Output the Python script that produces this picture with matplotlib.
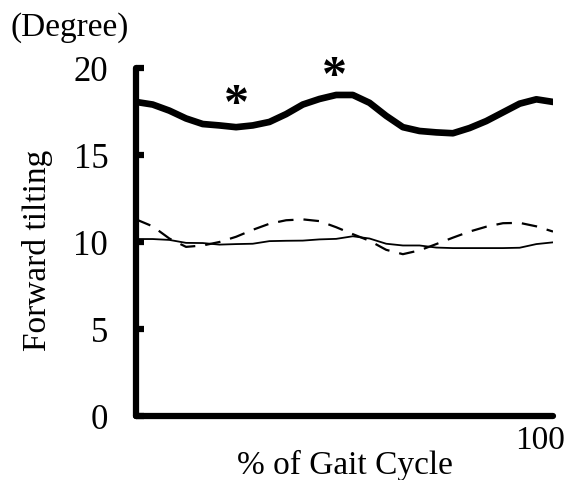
import matplotlib
matplotlib.use('Agg')
import matplotlib.pyplot as plt
import matplotlib.transforms as mtransforms

# % of gait cycle where values were read
gait = [0, 4, 8, 12, 16, 20, 24, 28, 32, 36, 40, 44, 48, 52,
        56, 60, 64, 68, 72, 76, 80, 84, 88, 92, 96, 100]

# forward tilting (degree), thick line
thick = [18.05, 17.9, 17.55, 17.1, 16.78, 16.7, 16.6, 16.7, 16.9, 17.35,
         17.9, 18.22, 18.45, 18.45, 18.0, 17.25, 16.6, 16.38, 16.3, 16.25,
         16.55, 16.95, 17.45, 17.95, 18.2, 18.05]

# thin solid line
solid = [10.17, 10.17, 10.12, 9.95, 9.94, 9.85, 9.88, 9.9, 10.05, 10.07,
         10.08, 10.15, 10.18, 10.33, 10.2, 9.9, 9.8, 9.8, 9.68, 9.65,
         9.65, 9.65, 9.65, 9.67, 9.88, 9.98]

# thin dashed line
dashed = [11.3, 10.9, 10.2, 9.72, 9.8, 10.0, 10.3, 10.7, 11.05, 11.25,
          11.3, 11.2, 10.85, 10.45, 10.07, 9.55, 9.3, 9.52, 9.88, 10.25,
          10.6, 10.88, 11.08, 11.1, 10.9, 10.6]

# significance marks (x, y)
stars_x = [24.2, 47.5]
stars_y = [17.85, 19.5]

yticks = [0, 5, 10, 15, 20]

plt.rcParams['font.family'] = ['Liberation Serif', 'DejaVu Serif']

fig = plt.figure(figsize=(5.72, 4.81), dpi=100)
ax = fig.add_axes([136/572, 1 - 417/481, 417/572, 348/481])

ax.plot(gait, thick, color='black', lw=4.8, solid_capstyle='round', solid_joinstyle='round')
ax.plot(gait, solid, color='black', lw=1.3)
ax.plot(gait, dashed, color='black', lw=1.6, dashes=(7, 4.5))

for sx, sy in zip(stars_x, stars_y):
    ax.text(sx, sy, '*', fontsize=36, fontweight='bold', ha='center', va='center', clip_on=False)

ax.set_xlim(0, 100)
ax.set_ylim(0, 20)

for side in ['top', 'right']:
    ax.spines[side].set_visible(False)
for side in ['left', 'bottom']:
    ax.spines[side].set_linewidth(4.5)
    ax.spines[side].set_capstyle('round')

ax.set_yticks(yticks)
ax.set_yticklabels([str(t) for t in yticks])
ax.tick_params(axis='y', direction='in', length=6, width=4.5, labelsize=25, pad=20)

ax.set_xticks([100])
ax.set_xticklabels(['100'])
ax.tick_params(axis='x', length=0, labelsize=24, pad=6)
for lab in ax.get_xticklabels():
    lab.set_transform(lab.get_transform() + mtransforms.ScaledTranslation(-13/100, 0, fig.dpi_scale_trans))

ax.set_xlabel('% of Gait Cycle', fontsize=24)
ax.xaxis.set_label_coords(0.5, -0.095)
ax.set_ylabel('Forward tilting', fontsize=24)
ax.yaxis.set_label_coords(-0.2, 0.48)

fig.text(10/572, 1 - 12/481, '(Degree)', fontsize=24, ha='left', va='top')

fig.savefig('out.png', dpi=100)
